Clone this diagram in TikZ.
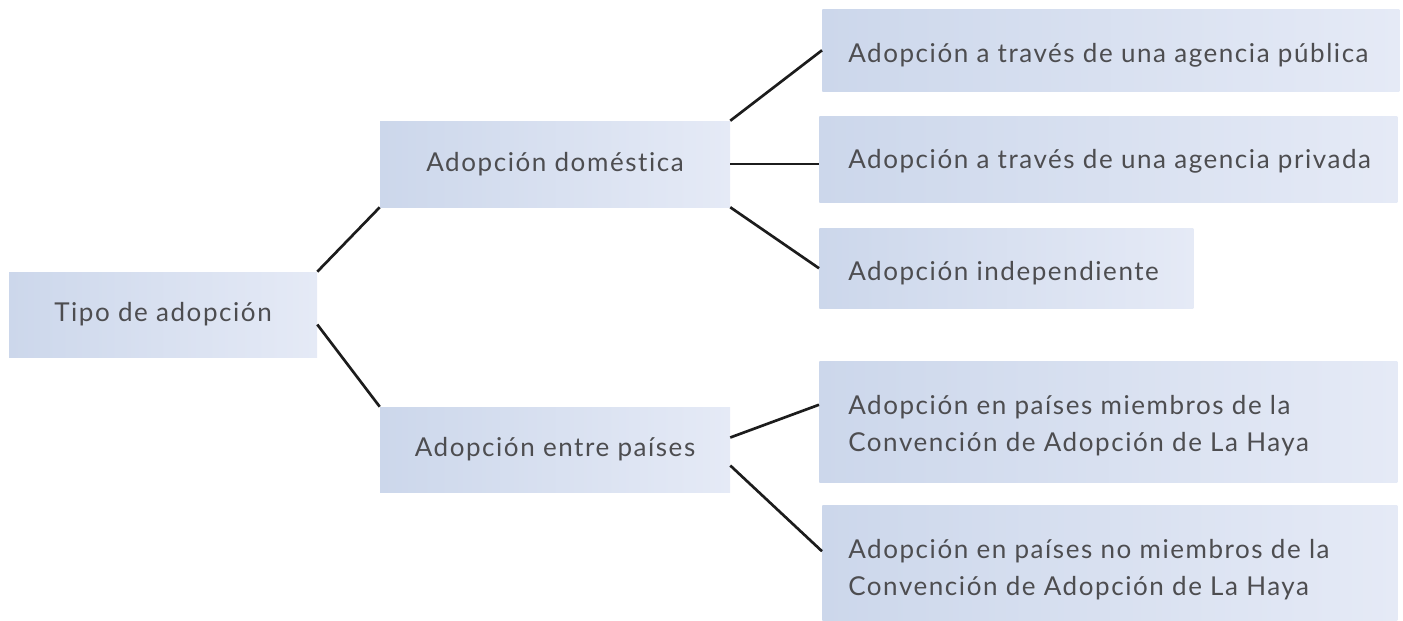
\documentclass[tikz,border=0pt]{standalone}
\usepackage{fontspec}
\setmainfont{Lato}[LetterSpace=6,Ligatures={NoCommon}]
\usetikzlibrary{calc}
\definecolor{bl}{RGB}{204,215,235}
\definecolor{br}{RGB}{229,234,246}
\definecolor{tc}{RGB}{77,77,80}
\definecolor{ln}{RGB}{28,28,28}
\newcommand{\dfont}{\fontsize{19.5pt}{27.75pt}\selectfont}
\begin{document}
\begin{tikzpicture}[x=0.75pt,y=-0.75pt,
  box/.style={shading=axis,left color=bl,right color=br,draw=none,inner sep=0pt,text=tc,font=\dfont},
  rbox/.style={box,anchor=north west},
  txt/.style={text=tc,font=\dfont,inner sep=0pt,align=left,anchor=base west},
  conn/.style={draw=ln,line width=2pt}]
\useasboundingbox (0,0) rectangle (1403,621);
% boxes
\node[box,minimum width=231pt,minimum height=63.75pt] (tipo) at (163,314.5) {Tipo de adopción};
\node[box,minimum width=262.5pt,minimum height=64.5pt] (dom) at (555,164) {Adopción doméstica};
\node[box,minimum width=262.5pt,minimum height=63.75pt] (entre) at (555,449.5) {Adopción entre países};
\node[rbox,minimum width=432.75pt,minimum height=61.5pt] (pub) at (822,9) {};
\node[rbox,minimum width=433.5pt,minimum height=64.5pt] (priv) at (819,116) {};
\node[rbox,minimum width=280.5pt,minimum height=60pt] (indep) at (819,228) {};
\node[rbox,minimum width=433.5pt,minimum height=90.75pt] (miem) at (819,361) {};
\node[rbox,minimum width=431.25pt,minimum height=87pt] (nomiem) at (822,505) {};
% texts
\node[txt] (pubt) at (848,62) {Adopción a través de una agencia pública};
\node[txt] (privt) at (848,168) {Adopción a través de una agencia privada};
\node[txt] (indept) at (848,280) {Adopción independiente};
\node[txt] (miemt) at (848,451) {Adopción en países miembros de la\\Convención de Adopción de La Haya};
\node[txt] (nomiemt) at (848,595) {Adopción en países no miembros de la\\Convención de Adopción de La Haya};
% connectors
\draw[conn] (tipo.north east) -- (dom.south west);
\draw[conn] ($(tipo.east)+(0,10)$) -- (entre.north west);
\draw[conn] (dom.north east) -- (pub.west);
\draw[conn] (dom.east) -- (dom.east -| priv.west);
\draw[conn] (dom.south east) -- (indep.west);
\draw[conn] ($(entre.east)+(0,-12)$) -- ($(miem.west)+(0,-17)$);
\draw[conn] ($(entre.east)+(0,16)$) -- ($(nomiem.west)+(0,-12)$);
\end{tikzpicture}
\end{document}
